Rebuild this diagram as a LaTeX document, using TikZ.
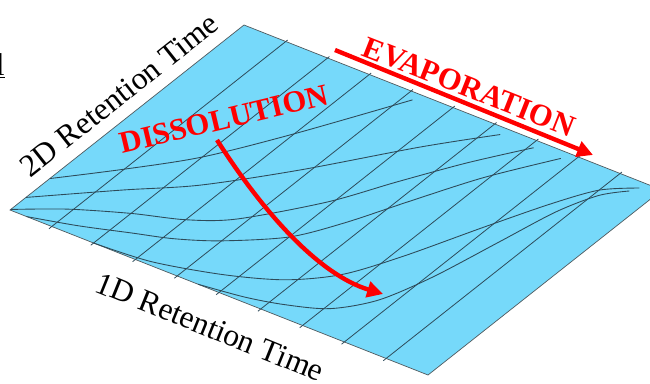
\documentclass[tikz,border=0pt]{standalone}
\usepackage{fontspec}
\setmainfont{Liberation Serif}
\usetikzlibrary{arrows.meta}
\definecolor{sheet}{RGB}{118,217,250}
\definecolor{gridc}{RGB}{45,75,90}
\definecolor{edgec}{RGB}{80,90,95}
\definecolor{hot}{RGB}{255,0,0}

\begin{document}
\begin{tikzpicture}[x=0.02cm, y=-0.02cm,
    plane/.style={fill=sheet, draw=edgec, line width=0.4pt},
    gridln/.style={draw=gridc, line width=0.45pt},
    trace/.style={draw=gridc, line width=0.5pt},
    axis/.style={font=\fontsize{18}{20}\selectfont, inner sep=0pt},
    proc/.style={font=\fontsize{17.5}{20}\selectfont\bfseries, text=hot, inner sep=0pt},
    arr/.style={-{Triangle[length=9pt, width=9pt]}, line width=2.5pt, draw=hot}
  ]
  \useasboundingbox (0,0) rectangle (650,383);
  \clip (0,0) rectangle (650,383);
  % corners of the sheet
  \coordinate (L) at (10,210);
  \coordinate (T) at (244,25);
  \coordinate (B) at (428,375);
  \coordinate (R) at (662,190);
  \draw[plane] (L) -- (T) -- (R) -- (B) -- cycle;
  % grid in sheet coordinates (u along 1D, v along 2D)
  \begin{scope}[shift={(10,210)}, x={(8.36cm,-3.3cm)}, y={(4.68cm,3.7cm)}]
    \foreach \u in {1,...,9}
      \draw[gridln] (\u/10,-0.012) -- (\u/10,1.008);
    \draw[trace] plot[smooth] coordinates {(0,0.17) (0.1,0.31) (0.2,0.465) (0.3,0.68) (0.42,0.97)};
    \draw[trace] plot[smooth] coordinates {(0,0.068) (0.14,0.233) (0.253,0.36) (0.382,0.557) (0.527,0.81) (0.63,0.97)};
    \draw[trace] plot[smooth] coordinates {(0,0.003) (0.09,0.085) (0.2,0.16) (0.3,0.215) (0.38,0.29) (0.49,0.48) (0.56,0.65) (0.634,0.82) (0.71,0.97)};
    \draw[trace] plot[smooth] coordinates {(0.04,0) (0.14,0.04) (0.24,0.09) (0.32,0.13) (0.4,0.19) (0.5,0.3) (0.56,0.43) (0.62,0.6) (0.69,0.79) (0.775,0.97)};
    \draw[trace] plot[smooth] coordinates {(0.2,0) (0.33,0.015) (0.47,0.07) (0.58,0.14) (0.66,0.24) (0.72,0.39) (0.79,0.61) (0.85,0.79) (0.9,0.91) (0.96,0.975)};
    \draw[trace] plot[smooth] coordinates {(0.45,0) (0.55,0.02) (0.63,0.05) (0.71,0.1) (0.77,0.2) (0.81,0.36) (0.845,0.58) (0.875,0.77) (0.91,0.89) (0.95,0.95)};
  \end{scope}
  % cut-off text at the left border
  \node[axis, anchor=base east] (frag) at (5,75) {\underline{l}};
  % axis labels
  \node[axis, rotate=38.4] (ylab) at (119,95) {2D Retention Time};
  \node[axis, rotate=-22] (xlab) at (210,327) {1D Retention Time};
  % processes
  \node[proc, rotate=13.4] (diss) at (224,119) {DISSOLUTION};
  \node[proc, rotate=-21.5] (evap) at (469,87) {EVAPORATION};
  \coordinate (e0) at (335,50);
  \coordinate (e1) at (593,155);
  \draw[arr] (e0) -- (e1);
  \coordinate (d0) at (217,140);
  \coordinate (d1) at (383,294);
  \draw[arr] (d0) .. controls (265,215) and (320,275) .. (d1);
\end{tikzpicture}
\end{document}
